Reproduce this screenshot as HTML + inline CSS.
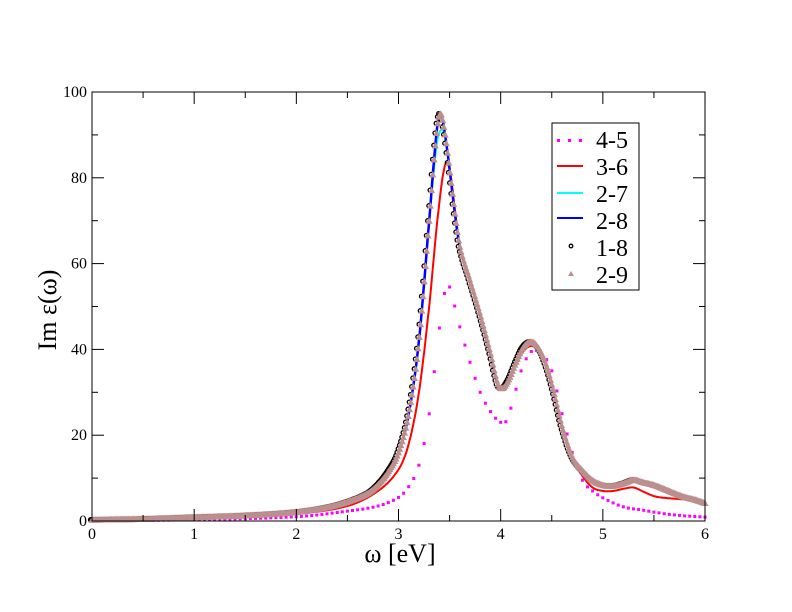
<!DOCTYPE html>
<html><head><meta charset="utf-8"><style>
html,body{margin:0;padding:0;background:#fff;}
svg{display:block;font-family:"Liberation Serif",serif;}
</style></head><body>
<svg id="s" width="792" height="612" viewBox="0 0 792 612" xmlns="http://www.w3.org/2000/svg">
<rect width="792" height="612" fill="#fff"/>
<g id="plot"></g>
<rect x="92" y="92" width="613" height="429" fill="none" stroke="#000" stroke-width="1"/>
<g id="ticks" stroke="#000" stroke-width="1"></g>
<g font-size="16" fill="#000" id="labels"></g>
<text x="400" y="562" font-size="26" text-anchor="middle">ω [eV]</text>
<text transform="translate(56,310) rotate(-90)" font-size="26" text-anchor="middle">Im ε(ω)</text>
<rect x="552" y="123" width="87" height="167" fill="#fff" stroke="#000" stroke-width="1"/>
<g font-size="24" fill="#000">
<text x="596" y="148">4-5</text>
<text x="596" y="175">3-6</text>
<text x="596" y="202">2-7</text>
<text x="596" y="229">2-8</text>
<text x="596" y="256">1-8</text>
<text x="596" y="283">2-9</text>
</g>
<g>
<rect x="557" y="139" width="3" height="3" fill="#ff00ff"/><rect x="568" y="139" width="3" height="3" fill="#ff00ff"/><rect x="579" y="139" width="3" height="3" fill="#ff00ff"/>
<line x1="557" y1="166" x2="583" y2="166" stroke="#ff0000" stroke-width="2"/>
<line x1="557" y1="193" x2="583" y2="193" stroke="#00ffff" stroke-width="2"/>
<line x1="557" y1="218" x2="583" y2="218" stroke="#0000ff" stroke-width="2"/>
<circle cx="571" cy="246" r="1.8" fill="none" stroke="#000" stroke-width="1.3"/>
<polygon points="568,276 574,276 571,271" fill="#bc8f8f"/>
</g>
</svg>
<script>
const X0=92,SX=102.17,Y0=521,SY=4.29;
const px=x=>X0+x*SX, py=y=>Y0-y*SY;
function interp(pts){return function(x){
 if(x<=pts[0][0])return pts[0][1];
 for(let i=0;i<pts.length-1;i++){const a=pts[i],b=pts[i+1];
  if(x<=b[0]){const p0=pts[Math.max(0,i-1)],p3=pts[Math.min(pts.length-1,i+2)];
   const t=(x-a[0])/(b[0]-a[0]);
   const m1=(b[1]-p0[1])/(b[0]-p0[0])*(b[0]-a[0]);
   const m2=(p3[1]-a[1])/(p3[0]-a[0])*(b[0]-a[0]);
   const t2=t*t,t3=t2*t;
   return (2*t3-3*t2+1)*a[1]+(t3-2*t2+t)*m1+(-2*t3+3*t2)*b[1]+(t3-t2)*m2;}}
 return pts[pts.length-1][1];};}
const main=[[0,0.3],[0.5,0.5],[1,0.9],[1.5,1.3],[2,2.1],[2.3,3.2],[2.5,4.5],[2.7,6.5],[2.8,8.5],[2.9,11.5],[3.0,16],[3.1,25],[3.2,42],[3.3,70],[3.37,90],[3.41,95],[3.45,91],[3.5,82],[3.55,72],[3.6,64],[3.7,56],[3.8,48],[3.9,39],[3.97,32],[4.02,31],[4.08,33],[4.15,37],[4.22,40.5],[4.3,41.8],[4.38,40],[4.45,36],[4.52,30],[4.6,22],[4.7,15],[4.8,11.8],[4.9,9.5],[5.0,8.4],[5.1,8.2],[5.2,8.8],[5.3,9.6],[5.4,9],[5.5,8.4],[5.6,7.5],[5.7,6.5],[5.8,5.6],[5.9,5],[6,4.2]];
const cyan=main.map(p=>p[0]==3.41?[3.41,91]:p[0]==3.37?[3.37,87]:p[0]==3.45?[3.45,90]:p);
const red=[[0,0.2],[1,0.7],[2,1.7],[2.5,3.5],[2.8,7],[3.0,12],[3.1,18],[3.2,30],[3.3,50],[3.38,70],[3.45,82.5],[3.5,82],[3.55,73],[3.6,64],[3.7,56],[3.8,48],[3.9,39],[3.97,32],[4.02,31],[4.08,33],[4.15,36.5],[4.22,39.5],[4.3,40.8],[4.38,39.5],[4.45,36],[4.52,30],[4.6,22],[4.7,14.5],[4.8,10.5],[4.9,7.8],[5.0,7],[5.1,7],[5.2,7.5],[5.3,7.8],[5.4,6.8],[5.5,5.8],[5.6,5.4],[5.8,5],[6,4.2]];
const mag=[[0,0],[1,0.3],[2,1],[2.5,2.3],[2.8,3.5],[3.0,5.5],[3.1,8],[3.2,13],[3.3,25],[3.4,45],[3.47,55],[3.52,53],[3.58,47],[3.7,37],[3.8,30],[3.9,25.5],[4.0,23],[4.06,23.5],[4.12,28],[4.2,35],[4.3,39.5],[4.4,39],[4.5,35],[4.6,25],[4.7,16],[4.8,9.5],[4.9,7],[5.0,5.4],[5.2,3.3],[5.4,2.5],[5.6,1.7],[5.8,1.2],[6,0.9]];
const ns="http://www.w3.org/2000/svg";const g=document.getElementById('plot');
function el(t,a){const e=document.createElementNS(ns,t);for(const k in a)e.setAttribute(k,a[k]);g.appendChild(e);return e;}
function line(f,c,w){let d="";for(let x=0;x<=6.0001;x+=0.005){d+=(d?"L":"M")+px(x).toFixed(1)+","+py(f(x)).toFixed(1);}el('path',{d,fill:'none',stroke:c,'stroke-width':w});}
const fm=interp(mag),fr=interp(red),fc=interp(cyan),fb=interp(main);
for(let x=0;x<=6.0001;x+=0.05){el('rect',{x:(px(x)-1.5).toFixed(1),y:(py(fm(x))-1.5).toFixed(1),width:3,height:3,fill:'#ff00ff'});}
line(fr,'#ff0000',2);line(fc,'#00ffff',2);line(fb,'#0000ff',2.5);
for(let x=0;x<=6.0001;x+=0.012){el('circle',{cx:(px(x)-1.5).toFixed(1),cy:py(fb(x)).toFixed(1),r:2,fill:'none',stroke:'#000','stroke-width':1.3});}
for(let x=0;x<=6.0001;x+=0.012){const cx=px(x),cy=py(fb(x));el('polygon',{points:`${cx-3.5},${cy+3} ${cx+3.5},${cy+3} ${cx},${cy-3.5}`,fill:'#bc8f8f'});}
const tk=document.getElementById('ticks'),lb=document.getElementById('labels');
function ln(a,b,c,d){const e=document.createElementNS(ns,'line');e.setAttribute('x1',a);e.setAttribute('y1',b);e.setAttribute('x2',c);e.setAttribute('y2',d);tk.appendChild(e);}
function tx(x,y,s,anc){const e=document.createElementNS(ns,'text');e.setAttribute('x',x);e.setAttribute('y',y);e.setAttribute('text-anchor',anc);e.textContent=s;lb.appendChild(e);}
for(let i=0;i<=12;i++){const x=px(i/2),L=i%2?6:12;ln(x,521,x,521-L);ln(x,92,x,92+L);if(i%2==0)tx(x,539,String(i/2),'middle');}
for(let i=0;i<=10;i++){const y=py(i*10),L=i%2?6:12;ln(92,y,92+L,y);ln(705,y,705-L,y);if(i%2==0)tx(87,y+5,String(i*10),'end');}
</script>
</body></html>
